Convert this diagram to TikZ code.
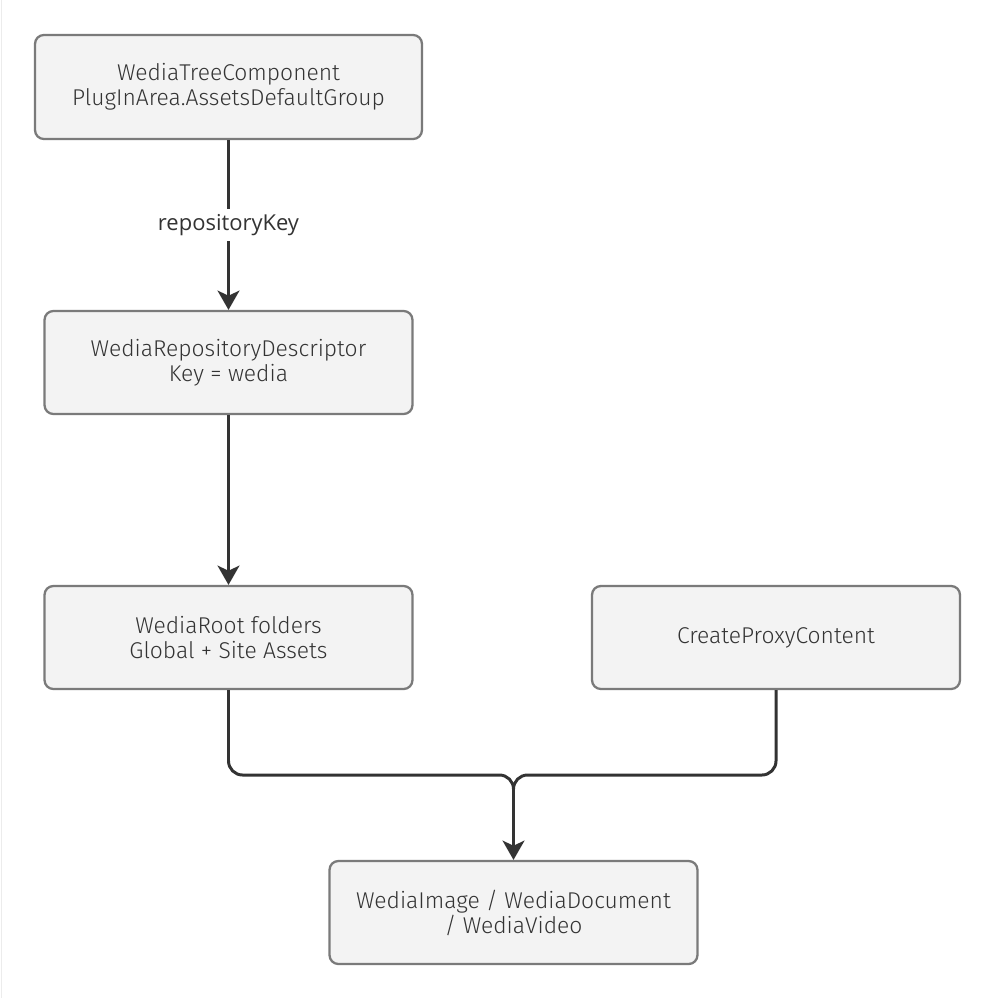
\documentclass[tikz,border=0pt]{standalone}
\usepackage{fontspec}
\setmainfont{Open Sans}
\newfontfamily\boxfont{Fira Sans Light}
\usepackage{xcolor}
\usetikzlibrary{arrows.meta, positioning, calc}

\definecolor{boxfill}{HTML}{F3F3F3}
\definecolor{boxline}{HTML}{7A7A7A}
\definecolor{linkcol}{HTML}{333333}
\definecolor{textcol}{HTML}{333333}

\tikzset{
    compbox/.style={draw=boxline, line width=1.3pt, fill=boxfill, rounded corners=5pt,
        minimum width=7.36cm, minimum height=2.06cm, align=center, text=textcol,
        font=\boxfont\fontsize{13}{14.2}\selectfont},
    link/.style={draw=linkcol, line width=1.7pt, rounded corners=8pt,
        -{Stealth[length=11pt, width=12.5pt, inset=3pt]}},
}

\begin{document}
\begin{tikzpicture}[x=0.02cm, y=-0.02cm]
        \useasboundingbox[fill=white] (0,0) rectangle (1001,998);
        \draw[gray!15, line width=0.6pt] (1.5,0) -- (1.5,998);

        % boxes
        \node[compbox, minimum width=7.74cm, minimum height=2.08cm] (tree) at (228.5,87)
            {WediaTreeComponent\\PlugInArea.AssetsDefaultGroup};
        \node[compbox] (repo) at (228.5,362.5) {WediaRepositoryDescriptor\\Key = wedia};
        \node[compbox] (root) at (228.5,637.5) {WediaRoot folders\\Global + Site Assets};
        \node[compbox] (proxy) at (776,637.5) {CreateProxyContent};
        \node[compbox] (media) at (513.5,912.5) {WediaImage / WediaDocument\\/ WediaVideo};

        % connectors
        \draw[link] (tree) -- node[fill=white, text=textcol, font=\fontsize{12.5}{15}\selectfont,
            inner sep=3pt] {repositoryKey} (repo);
        \draw[link] (repo) -- (root);

        \coordinate (join) at (513.5,775);
        \draw[link] (root.south) |- (join) -- (media.north);
        \draw[link, -] (proxy.south) |- (join) -- ($(join)+(0,30)$);
    \end{tikzpicture}
\end{document}
